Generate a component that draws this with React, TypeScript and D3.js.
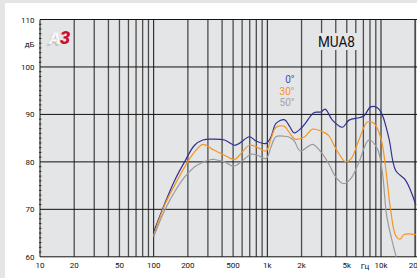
import React from "react";
import * as d3 from "d3";

const W = 417;
const H = 278;

const xTicks = [10, 20, 50, 100, 200, 500, 1000, 2000, 5000, 10000, 20000];
const xTickLabels = ["10", "20", "50", "100", "200", "500", "1k", "2k", "5k", "10k", "20k"];
const yTicks = [60, 70, 80, 90, 100, 110];

const blueFreq = [100, 125, 153, 187, 229, 271, 321, 420, 513, 568, 695, 796, 974, 1078, 1192, 1410, 1560, 1725, 2039, 2584, 2959, 3228, 3739, 4576, 5240, 6412, 7093, 8121, 9281, 10265, 11754, 13456, 16472, 20277];
const blueDb = [65.2, 71.2, 76.1, 80.0, 83.5, 84.6, 84.8, 84.6, 83.5, 83.9, 85.3, 84.4, 83.9, 85.3, 88.1, 88.9, 87.6, 86.1, 87.4, 90.4, 90.5, 91.1, 88.8, 87.3, 88.8, 89.3, 89.7, 91.6, 91.4, 89.9, 84.9, 78.2, 76.1, 70.9];

const orangeFreq = [100, 125, 153, 187, 229, 271, 321, 420, 513, 568, 695, 796, 974, 1078, 1192, 1410, 1560, 1750, 2130, 2500, 2959, 3450, 4000, 4900, 5470, 6412, 7600, 8700, 10000, 11000, 12100, 13456, 14700, 16000, 20277];
const orangeDb = [64.5, 70.9, 75.1, 78.9, 82.1, 83.7, 82.8, 81.4, 80.5, 81.4, 83.5, 83.2, 82.3, 84.9, 87.3, 87.5, 86.2, 84.8, 85.3, 86.9, 86.5, 85.6, 82.8, 80.0, 80.7, 84.7, 88.4, 88.1, 84.9, 78.6, 70.2, 64.5, 63.7, 64.7, 64.7];

const grayFreq = [100, 125, 153, 187, 240, 321, 343, 420, 500, 568, 720, 820, 974, 1078, 1192, 1410, 1560, 1725, 1950, 2500, 2959, 3450, 4000, 4700, 5470, 6412, 7800, 9281, 10265, 11200, 12400, 13700];
const grayDb = [64.2, 69.8, 73.7, 76.8, 79.3, 80.5, 80.5, 80.0, 79.1, 79.7, 81.6, 81.4, 80.7, 83.2, 85.3, 85.4, 85.2, 84.4, 82.3, 83.7, 82.1, 79.7, 76.8, 75.4, 76.6, 80.0, 84.6, 82.8, 77.9, 68.8, 63.8, 59.7];

const legendLabels = ["0°", "30°", "50°"];
const title = "MUA8";

const x = d3.scaleLog().domain([10, 10000]).range([40, 381]);
const y = d3.scaleLinear().domain([60, 110]).range([256.8, 19.5]);

const PL = 40, PR = 417, PT = 19.5, PB = 256.8;

function gridFreqs(): number[] {
  const out: number[] = [];
  for (let d = 10; d <= 10000; d *= 10) {
    for (let m = 1; m <= 9; m++) out.push(d * m);
  }
  out.push(20000);
  return out;
}

const line = d3
  .line<[number, number]>()
  .x((d) => x(d[0]))
  .y((d) => y(d[1]))
  .curve(d3.curveCatmullRom.alpha(0.5));

export default function App() {
  const series = [
    { f: blueFreq, v: blueDb, c: "#2e3192" },
    { f: orangeFreq, v: orangeDb, c: "#f7941d" },
    { f: grayFreq, v: grayDb, c: "#9a9a9a" },
  ];
  const legendColors = ["#4b4fae", "#f7941d", "#a3a3a3"];
  const minor = d3.range(61, 110).filter((v) => v % 10 !== 0);
  const font = "Roboto, 'Liberation Sans', sans-serif";
  return (
    <svg
      width={W}
      height={H}
      style={{ position: "absolute", left: 0, top: 0, display: "block" }}
    >
      <defs>
        <clipPath id="plotclip">
          <rect x={PL} y={PT} width={PR - PL} height={PB - PT} />
        </clipPath>
      </defs>
      <rect x={0} y={0} width={W} height={H} fill="#e4e5e7" />
      <rect x={5} y={3} width={W - 5} height={H - 3} fill="#ffffff" />
      <rect x={PL} y={PT} width={PR - PL} height={PB - PT} fill="#e4e5e7" />
      {gridFreqs().map((f, i) => {
        const decade = Math.abs(Math.log10(f) - Math.round(Math.log10(f))) < 1e-9;
        return (
          <line
            key={"v" + i}
            x1={x(f)}
            x2={x(f)}
            y1={PT}
            y2={PB}
            stroke={decade ? "#111" : "#4c4c4c"}
            strokeWidth={decade ? 1 : 1.3}
          />
        );
      })}
      {yTicks.map((t) => (
        <line key={"h" + t} x1={PL} x2={PR} y1={y(t)} y2={y(t)} stroke="#111" strokeWidth={1} />
      ))}
      {minor.map((t) => (
        <line key={"m" + t} x1={PL - 1} x2={PL + 1.5} y1={y(t)} y2={y(t)} stroke="#111" strokeWidth={0.8} />
      ))}
      <rect x={316} y={33} width={41} height={17} fill="#e4e5e7" />
      <text x={336.5} y={47} textAnchor="middle" fontFamily={font} fontSize={15} fill="#111" textLength={37} lengthAdjust="spacingAndGlyphs">
        {title}
      </text>
      <g clipPath="url(#plotclip)">
        {series.map((s, i) => (
          <path
            key={"s" + i}
            d={line(s.f.map((f, j) => [f, s.v[j]] as [number, number])) || ""}
            fill="none"
            stroke={s.c}
            strokeWidth={1.2}
          />
        ))}
      </g>
      {legendLabels.map((l, i) => (
        <text key={"l" + i} x={294.5} y={83 + i * 11.5} textAnchor="end" fontFamily={font} fontSize={10} fill={legendColors[i]}>
          {l}
        </text>
      ))}
      {yTicks.map((t) => (
        <text key={"yt" + t} x={34.5} y={y(t) + 3} textAnchor="end" fontFamily={font} fontSize={8} fill="#111">
          {t}
        </text>
      ))}
      <text x={34.5} y={46.5} textAnchor="end" fontFamily={font} fontSize={8} fill="#111">
        дБ
      </text>
      {xTicks.map((t, i) => (
        <text key={"xt" + t} x={x(t)} y={267.5} textAnchor="middle" fontFamily={font} fontSize={8} fill="#111">
          {xTickLabels[i]}
        </text>
      ))}
      <text x={365} y={269} textAnchor="middle" fontFamily={font} fontSize={8} fill="#111">
        Гц
      </text>
      <g fontFamily={font} fontSize={18} fontWeight={900} fontStyle="italic">
        <text x={47.5} y={45.5} fill="#c4c4c4">A</text>
        <text x={49} y={44} fill="#ffffff" stroke="#d8d8d8" strokeWidth={0.4}>A</text>
        <text x={60} y={44} fill="#c8102e">3</text>
      </g>
    </svg>
  );
}
